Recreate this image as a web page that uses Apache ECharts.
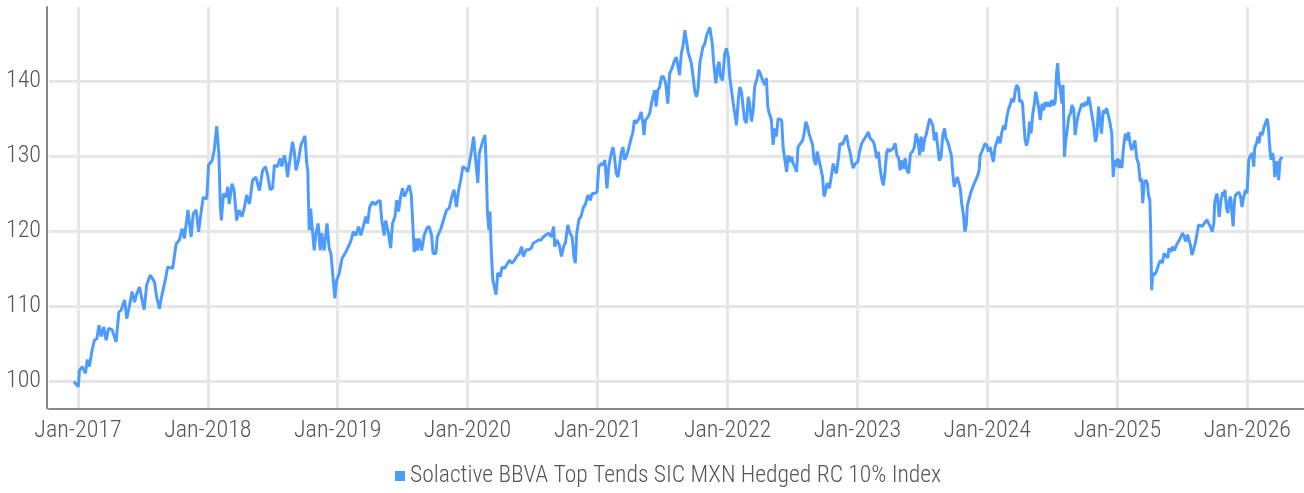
<!DOCTYPE html>
<html>
<head>
<meta charset="utf-8">
<script src="https://cdn.jsdelivr.net/npm/echarts@6/dist/echarts.min.js"></script>
<style>
html,body{margin:0;padding:0;background:#fff;}
#c{width:1304px;height:493px;}
</style>
</head>
<body>
<div id="c"></div>
<script>
const seriesName = 'Solactive BBVA Top Tends SIC MXN Hedged RC 10% Index';
const tickYears = [2017, 2018, 2019, 2020, 2021, 2022, 2023, 2024, 2025, 2026];

const dates = [
'2016-12-20','2017-01-02','2017-01-05','2017-01-13','2017-01-22','2017-01-27','2017-02-02','2017-02-09','2017-02-16','2017-02-23',
'2017-03-01','2017-03-07','2017-03-14','2017-03-21','2017-03-28','2017-04-07','2017-04-18','2017-04-26','2017-05-02','2017-05-12',
'2017-05-18','2017-05-26','2017-06-02','2017-06-09','2017-06-15','2017-06-23','2017-06-30','2017-07-06','2017-07-13','2017-07-23',
'2017-08-04','2017-08-10','2017-08-18','2017-08-23','2017-09-04','2017-09-10','2017-09-24','2017-10-04','2017-10-13','2017-10-21',
'2017-10-27','2017-11-06','2017-11-15','2017-11-21','2017-11-29','2017-12-06','2017-12-13','2017-12-19','2017-12-29',
'2018-01-03','2018-01-13','2018-01-19','2018-01-26','2018-02-01','2018-02-05','2018-02-08','2018-02-14','2018-02-21','2018-02-26',
'2018-03-02','2018-03-10','2018-03-16','2018-03-23','2018-03-30','2018-04-07','2018-04-14','2018-04-20','2018-04-28','2018-05-07',
'2018-05-16','2018-05-26','2018-06-04','2018-06-12','2018-06-18','2018-06-25','2018-07-02','2018-07-07','2018-07-16','2018-07-23',
'2018-07-28','2018-08-04','2018-08-09','2018-08-13','2018-08-21','2018-08-27','2018-09-01','2018-09-06','2018-09-13','2018-09-20',
'2018-09-24','2018-10-01','2018-10-06','2018-10-09','2018-10-11','2018-10-13','2018-10-17','2018-10-22','2018-10-27','2018-11-01',
'2018-11-07','2018-11-13','2018-11-17','2018-11-24','2018-12-02','2018-12-08','2018-12-13','2018-12-18','2018-12-24','2018-12-29',
'2019-01-05','2019-01-13','2019-01-19','2019-01-26','2019-02-02','2019-02-08','2019-02-14','2019-02-21','2019-03-01','2019-03-07',
'2019-03-14','2019-03-21','2019-03-26','2019-04-01','2019-04-09','2019-04-16','2019-04-23','2019-04-30','2019-05-05','2019-05-12',
'2019-05-16','2019-05-23','2019-05-30','2019-06-04','2019-06-11','2019-06-16','2019-06-21','2019-06-27','2019-07-02','2019-07-07',
'2019-07-13','2019-07-21','2019-07-27','2019-08-01','2019-08-04','2019-08-09','2019-08-13','2019-08-18','2019-08-25','2019-09-01',
'2019-09-08','2019-09-15','2019-09-22','2019-09-26','2019-10-04','2019-10-08','2019-10-18','2019-10-27','2019-11-03','2019-11-10',
'2019-11-18','2019-11-24','2019-12-01','2019-12-06','2019-12-13','2019-12-19','2019-12-27',
'2020-01-02','2020-01-06','2020-01-14','2020-01-18','2020-01-23','2020-01-30','2020-02-03','2020-02-11','2020-02-19','2020-02-22',
'2020-02-26','2020-03-01','2020-03-04','2020-03-08','2020-03-12','2020-03-16','2020-03-21','2020-03-26','2020-04-02','2020-04-07',
'2020-04-14','2020-04-20','2020-04-28','2020-05-05','2020-05-12','2020-05-18','2020-05-26','2020-06-01','2020-06-06','2020-06-14',
'2020-06-21','2020-06-28','2020-07-04','2020-07-12','2020-07-19','2020-07-26','2020-08-01','2020-08-09','2020-08-16','2020-08-23',
'2020-08-30','2020-09-02','2020-09-08','2020-09-15','2020-09-21','2020-09-27','2020-10-02','2020-10-09','2020-10-15','2020-10-21',
'2020-10-26','2020-10-30','2020-11-03','2020-11-09','2020-11-15','2020-11-22','2020-11-27','2020-12-04','2020-12-11','2020-12-16',
'2020-12-23','2020-12-30',
'2021-01-04','2021-01-11','2021-01-17','2021-01-21','2021-01-27','2021-02-01','2021-02-08','2021-02-13','2021-02-17','2021-02-22',
'2021-02-27','2021-03-03','2021-03-08','2021-03-13','2021-03-17','2021-03-22','2021-03-30','2021-04-05','2021-04-10','2021-04-14',
'2021-04-19','2021-04-27','2021-05-03','2021-05-08','2021-05-11','2021-05-15','2021-05-22','2021-05-27','2021-06-03','2021-06-10',
'2021-06-14','2021-06-19','2021-06-24','2021-06-29','2021-07-05','2021-07-11','2021-07-17','2021-07-22','2021-07-30','2021-08-05',
'2021-08-10','2021-08-15','2021-08-19','2021-08-24','2021-08-29','2021-09-03','2021-09-07','2021-09-12','2021-09-17','2021-09-21',
'2021-09-26','2021-10-01','2021-10-06','2021-10-10','2021-10-15','2021-10-20','2021-10-24','2021-10-29','2021-11-03','2021-11-07',
'2021-11-12','2021-11-17','2021-11-19','2021-11-23','2021-11-29','2021-12-04','2021-12-08','2021-12-12','2021-12-18','2021-12-24',
'2021-12-29',
'2022-01-03','2022-01-07','2022-01-12','2022-01-17','2022-01-21','2022-01-26','2022-01-31','2022-02-04','2022-02-09','2022-02-14',
'2022-02-18','2022-02-23','2022-02-28','2022-03-04','2022-03-09','2022-03-14','2022-03-18','2022-03-25','2022-03-29','2022-04-03',
'2022-04-07','2022-04-11','2022-04-16','2022-04-20','2022-04-24','2022-04-28','2022-05-02','2022-05-04','2022-05-09','2022-05-14',
'2022-05-18','2022-05-23','2022-05-28','2022-06-02','2022-06-06','2022-06-11','2022-06-16','2022-06-20','2022-06-25','2022-06-30',
'2022-07-04','2022-07-09','2022-07-14','2022-07-18','2022-07-25','2022-07-31','2022-08-04','2022-08-09','2022-08-14','2022-08-18',
'2022-08-22','2022-08-28','2022-09-01','2022-09-06','2022-09-10','2022-09-15','2022-09-19','2022-09-25','2022-09-29','2022-10-03',
'2022-10-08','2022-10-14','2022-10-18','2022-10-25','2022-10-30','2022-11-03','2022-11-08','2022-11-13','2022-11-20','2022-11-27',
'2022-12-01','2022-12-06','2022-12-11','2022-12-16','2022-12-20','2022-12-26',
'2023-01-02','2023-01-06','2023-01-13','2023-01-18','2023-01-22','2023-01-27','2023-02-01','2023-02-05','2023-02-10','2023-02-15',
'2023-02-19','2023-02-24','2023-03-01','2023-03-05','2023-03-10','2023-03-15','2023-03-19','2023-03-24','2023-03-28','2023-03-30',
'2023-04-03','2023-04-11','2023-04-17','2023-04-22','2023-04-27','2023-05-01','2023-05-06','2023-05-11','2023-05-15','2023-05-20',
'2023-05-25','2023-05-30','2023-06-05','2023-06-10','2023-06-15','2023-06-20','2023-06-25','2023-06-29','2023-07-04','2023-07-09',
'2023-07-13','2023-07-18','2023-07-23','2023-07-27','2023-08-01','2023-08-05','2023-08-10','2023-08-14','2023-08-19','2023-08-24',
'2023-08-29','2023-09-03','2023-09-07','2023-09-12','2023-09-17','2023-09-22','2023-09-26','2023-09-30','2023-10-04','2023-10-09',
'2023-10-14','2023-10-17','2023-10-21','2023-10-26','2023-10-30','2023-11-03','2023-11-06','2023-11-11','2023-11-16','2023-11-20',
'2023-11-25','2023-11-30','2023-12-05','2023-12-09','2023-12-12','2023-12-17','2023-12-21','2023-12-26','2023-12-31',
'2024-01-04','2024-01-09','2024-01-14','2024-01-18','2024-01-23','2024-01-28','2024-02-01','2024-02-06','2024-02-11','2024-02-16',
'2024-02-20','2024-02-25','2024-03-01','2024-03-05','2024-03-10','2024-03-15','2024-03-20','2024-03-24','2024-03-29','2024-04-01',
'2024-04-05','2024-04-09','2024-04-12','2024-04-16','2024-04-20','2024-04-25','2024-04-29','2024-05-03','2024-05-08','2024-05-12',
'2024-05-16','2024-05-20','2024-05-25','2024-05-29','2024-06-03','2024-06-07','2024-06-12','2024-06-17','2024-06-21','2024-06-26',
'2024-07-01','2024-07-05','2024-07-10','2024-07-14','2024-07-17','2024-07-20','2024-07-24','2024-07-29','2024-08-01','2024-08-05',
'2024-08-08','2024-08-12','2024-08-17','2024-08-22','2024-08-26','2024-08-31','2024-09-04','2024-09-09','2024-09-14','2024-09-18',
'2024-09-23','2024-09-28','2024-10-02','2024-10-07','2024-10-12','2024-10-16','2024-10-21','2024-10-26','2024-10-31','2024-11-04',
'2024-11-09','2024-11-14','2024-11-17','2024-11-22','2024-11-27','2024-12-01','2024-12-06','2024-12-11','2024-12-16','2024-12-18',
'2024-12-20','2024-12-24','2024-12-28',
'2025-01-02','2025-01-05','2025-01-08','2025-01-13','2025-01-18','2025-01-23','2025-01-27','2025-02-01','2025-02-06','2025-02-10',
'2025-02-15','2025-02-19','2025-02-24','2025-03-01','2025-03-06','2025-03-10','2025-03-13','2025-03-17','2025-03-22','2025-03-26',
'2025-03-29','2025-04-02','2025-04-04','2025-04-07','2025-04-10','2025-04-14','2025-04-19','2025-04-23','2025-04-28','2025-05-03',
'2025-05-07','2025-05-12','2025-05-17','2025-05-22','2025-05-26','2025-05-31','2025-06-05','2025-06-10','2025-06-14','2025-06-19',
'2025-06-24','2025-06-28','2025-07-03','2025-07-08','2025-07-12','2025-07-17','2025-07-21','2025-07-25','2025-07-29','2025-08-03',
'2025-08-08','2025-08-12','2025-08-17','2025-08-22','2025-08-27','2025-08-31','2025-09-05','2025-09-10','2025-09-14','2025-09-19',
'2025-09-24','2025-09-29','2025-10-01','2025-10-05','2025-10-08','2025-10-12','2025-10-14','2025-10-19','2025-10-24','2025-10-28',
'2025-10-30','2025-11-03','2025-11-07','2025-11-11','2025-11-15','2025-11-18','2025-11-22','2025-11-26','2025-11-29','2025-12-03',
'2025-12-08','2025-12-13','2025-12-17','2025-12-22','2025-12-27','2025-12-31',
'2026-01-03','2026-01-05','2026-01-10','2026-01-15','2026-01-19','2026-01-22','2026-01-27','2026-01-31','2026-02-03','2026-02-07',
'2026-02-12','2026-02-16','2026-02-21','2026-02-26','2026-03-01','2026-03-03','2026-03-06','2026-03-09','2026-03-13','2026-03-17',
'2026-03-19','2026-03-22','2026-03-26','2026-03-30','2026-04-03','2026-04-07','2026-04-09'
];

const values = [
99.9,99.2,101.4,101.9,101.0,102.8,101.9,103.9,105.4,105.6,
107.4,105.9,107.2,105.4,107.0,106.8,105.2,109.2,109.4,110.8,
108.3,110.1,111.9,110.5,111.6,112.5,110.8,109.5,112.8,114.1,
113.2,111.2,109.6,111.0,113.6,115.2,115.0,118.3,118.8,120.3,
119.0,122.8,119.2,122.3,122.8,119.9,122.5,124.5,124.3,
128.8,129.4,130.8,134.0,130.3,123.4,121.4,125.0,124.5,125.9,
123.6,126.3,125.4,121.4,122.8,121.9,123.2,124.8,123.6,126.8,
127.2,125.4,128.1,128.6,127.5,125.5,125.7,128.8,128.6,129.7,
128.6,130.1,129.0,127.2,129.9,131.9,130.6,128.1,129.5,131.5,
131.7,132.7,129.0,128.1,123.7,120.1,123.0,120.1,117.4,119.7,
121.0,117.4,119.7,117.4,121.0,117.7,117.0,114.3,111.0,113.4,
114.3,116.3,116.8,117.4,118.1,118.8,119.9,119.4,120.6,119.4,
120.6,121.9,121.0,123.2,123.9,123.5,123.9,124.1,121.4,119.4,
121.4,119.9,117.7,121.0,121.9,124.1,122.6,124.6,125.7,124.6,
125.2,126.1,124.8,120.1,117.2,119.0,117.4,119.0,117.4,119.4,
120.3,120.6,119.4,117.0,117.0,119.2,120.3,121.7,122.8,123.0,
124.6,125.5,123.2,125.2,126.8,128.6,128.3,
127.9,129.0,131.2,132.6,129.9,126.4,130.4,131.7,132.8,129.5,
122.4,120.1,122.6,117.0,113.5,112.6,111.5,114.4,113.9,115.2,
115.0,115.5,116.1,115.7,116.1,116.6,117.0,117.9,116.6,117.5,
117.5,117.7,118.4,118.6,118.8,118.8,119.2,119.5,119.7,119.2,
120.6,117.9,118.8,118.1,116.6,117.9,118.4,120.8,119.7,119.2,
116.6,115.7,119.7,121.5,121.9,123.2,123.5,124.8,124.1,125.0,
125.0,125.2,
128.6,129.0,128.8,129.5,125.7,128.6,130.4,131.2,129.9,127.7,
127.2,128.6,130.4,131.2,129.5,129.9,131.2,132.4,133.2,134.8,
134.4,135.0,135.9,134.4,132.8,134.8,135.2,135.7,137.5,138.8,
136.6,138.8,139.2,140.6,140.6,139.7,137.0,141.0,141.9,142.8,
143.2,141.9,140.8,143.7,144.8,146.8,145.5,143.9,144.1,142.4,
140.6,138.6,137.9,139.0,142.4,143.7,144.6,145.0,146.1,146.6,
147.2,147.0,145.0,142.4,139.7,141.9,142.6,140.6,140.1,143.7,
144.4,
143.2,140.6,140.4,137.0,135.7,134.1,137.5,139.2,138.6,136.4,
134.8,134.4,137.9,137.0,134.6,136.1,139.2,140.4,141.5,141.0,
141.2,139.9,139.5,140.4,136.6,135.7,135.2,134.8,131.5,133.7,
132.6,135.0,135.2,134.8,131.2,129.5,127.9,130.1,129.2,129.9,
129.0,128.6,127.9,131.2,131.7,132.1,133.0,134.6,133.9,133.0,
133.2,131.5,129.5,128.8,130.6,130.4,128.6,127.2,124.6,125.2,
126.4,125.7,126.8,129.0,128.1,127.7,129.5,131.7,131.5,132.4,
132.8,131.5,130.6,129.2,128.4,129.0,
129.2,130.4,131.7,131.5,132.4,132.8,133.2,132.4,132.6,131.9,
131.2,129.7,130.6,128.6,127.0,126.1,127.7,130.4,131.0,130.6,
130.8,131.0,131.7,130.1,129.7,128.1,129.4,128.3,129.7,128.1,
127.7,130.3,130.6,131.2,133.0,132.1,130.1,132.6,130.6,132.3,
132.8,133.9,135.0,135.2,134.1,132.1,133.2,133.0,129.4,129.9,
132.8,133.7,132.3,131.9,131.0,130.1,127.7,125.9,125.7,127.2,
127.4,125.7,123.7,122.1,119.9,120.8,123.4,123.2,125.2,125.7,
126.3,126.1,127.4,128.1,130.1,130.6,130.8,131.7,131.4,
130.6,131.2,130.1,129.2,131.2,131.9,132.6,131.7,133.2,134.1,
133.5,135.2,136.3,136.8,137.7,137.2,138.8,139.5,139.0,137.2,
137.5,137.0,135.0,132.3,131.4,132.3,134.6,133.0,135.7,136.8,
138.6,137.7,136.3,134.8,137.0,136.1,137.2,136.6,137.2,136.6,
137.5,136.8,137.2,141.2,142.4,139.9,139.0,137.0,139.5,129.9,
131.9,133.2,135.2,135.7,136.8,136.3,132.8,134.6,135.7,136.3,
137.0,136.6,137.2,136.8,137.9,137.0,135.5,134.1,131.9,132.8,
136.6,136.8,133.0,136.1,135.7,136.4,135.5,134.4,133.0,129.9,
127.2,129.5,128.6,
129.7,128.4,129.5,128.4,131.2,133.0,132.1,133.2,131.5,130.8,
131.5,132.1,129.7,129.0,126.6,127.0,123.7,126.4,126.8,126.4,
124.8,124.1,120.6,112.1,114.4,114.1,114.4,115.0,115.7,116.1,
115.7,117.0,117.2,116.4,117.7,117.2,117.9,117.4,117.9,118.4,
118.8,119.2,119.7,119.2,118.6,119.5,118.8,118.1,116.8,117.5,
118.4,119.5,120.8,121.0,120.6,120.8,121.2,121.5,121.0,120.6,
119.9,121.0,123.7,124.6,125.0,122.8,121.9,124.1,125.2,124.6,
125.5,123.2,122.4,124.1,124.6,122.8,120.6,124.1,124.8,124.6,
125.2,124.6,123.2,124.6,125.5,125.0,
127.5,129.5,130.1,130.4,128.6,131.2,131.7,132.6,131.7,133.2,
132.8,133.7,134.4,135.0,133.9,132.6,130.6,129.5,130.4,129.2,
127.2,128.6,129.3,126.8,129.5,129.7,129.9
];

function toTime(s) {
  const p = s.split('-').map(Number);
  return new Date(p[0], p[1] - 1, p[2]).getTime();
}

const chart = echarts.init(document.getElementById('c'), null, {renderer: 'canvas'});
const FONT = 'Roboto, sans-serif';
const TXT = '#555555';
const txt = {fontFamily: FONT, fontSize: 24, fontStyle: 'condensed', fontWeight: 300, color: TXT};
const yearTicks = tickYears.map(y => new Date(y, 0, 1).getTime());
const seriesData = dates.map((d, i) => [toTime(d), values[i]]);

chart.setOption({
  animation: false,
  backgroundColor: '#ffffff',
  grid: {left: 49, right: 0, top: 7, bottom: 84.5, containLabel: false},
  legend: {
    data: [{name: seriesName, icon: 'rect'}],
    left: 395, top: 464, padding: 0,
    itemWidth: 10, itemHeight: 10, itemGap: 10,
    textStyle: Object.assign({}, txt, {fontSize: 23.6})
  },
  xAxis: {
    type: 'value',
    min: new Date(2016, 9, 11, 12).getTime(),
    max: new Date(2026, 5, 9, 7).getTime(),
    axisLine: {show: true, lineStyle: {color: '#888888', width: 2}},
    axisTick: {show: false, customValues: yearTicks},
    axisLabel: Object.assign({
      customValues: yearTicks,
      margin: 10,
      formatter: v => 'Jan-' + new Date(v).getFullYear()
    }, txt),
    splitLine: {show: true, lineStyle: {color: '#e6e6e6', width: 3}}
  },
  yAxis: {
    type: 'value',
    min: 96.3, max: 149.9,
    offset: 2,
    axisLine: {show: true, lineStyle: {color: '#888888', width: 2}},
    axisTick: {show: false},
    axisLabel: Object.assign({
      margin: 6,
      showMinLabel: false, showMaxLabel: false,
      formatter: v => (Math.abs(v % 10) < 1e-6 ? String(v) : '')
    }, txt),
    splitLine: {show: true, showMinLine: false, showMaxLine: false, lineStyle: {color: '#e6e6e6', width: 3}}
  },
  series: [{
    name: seriesName,
    type: 'line',
    data: seriesData,
    showSymbol: false,
    symbol: 'none',
    color: '#4d9bff',
    lineStyle: {color: '#4d9bff', width: 3},
    z: 3
  }]
});
</script>
</body>
</html>
